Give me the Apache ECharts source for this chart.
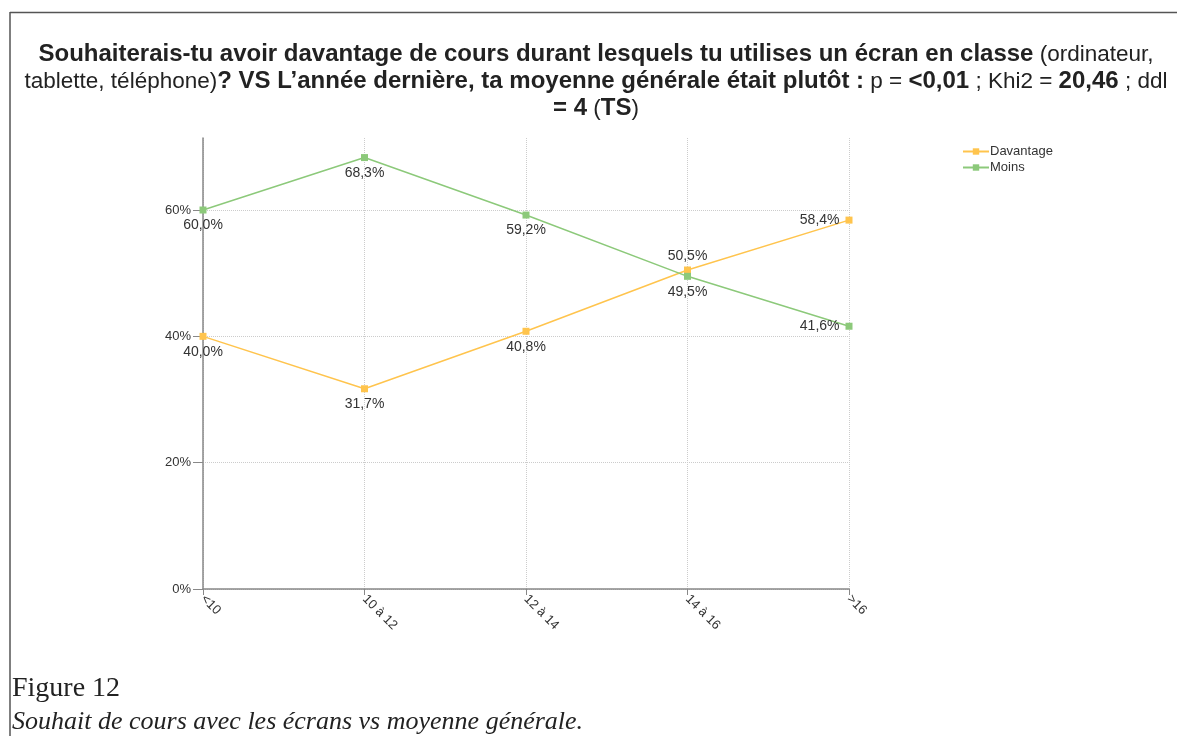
<!DOCTYPE html>
<html>
<head>
<meta charset="utf-8">
<script src="https://cdn.jsdelivr.net/npm/echarts@6/dist/echarts.min.js"></script>
<style>
  html, body { margin: 0; padding: 0; background: #fff; }
  #chart { width: 1177px; height: 736px; }
</style>
</head>
<body>
<div id="chart"></div>
<script>
// moyenne générale de l'année dernière
const categories = ['<10', '10 à 12', '12 à 14', '14 à 16', '>16'];
const davantage = [40.0, 31.7, 40.8, 50.5, 58.4];
const moins = [60.0, 68.3, 59.2, 49.5, 41.6];
const seriesNames = ['Davantage', 'Moins'];

function pct(v) {
  return v.toFixed(1).replace('.', ',') + '%';
}

function renderChart() {
  const dom = document.getElementById('chart');
  const chart = echarts.init(dom);
  const titleText =
    '{b|Souhaiterais-tu avoir davantage de cours durant lesquels tu utilises un écran en classe}{n| (ordinateur,}\n' +
    '{n|tablette, téléphone)}{b|? VS L’année dernière, ta moyenne générale était plutôt :}{n| p = }{b|<0,01}{n| ; Khi2 = }{b|20,46}{n| ; ddl}\n' +
    '{b|= 4}{n| (}{b|TS}{n|)}';

  const labelCommon = {
    show: true,
    fontSize: 14,
    color: '#333',
    formatter: function (p) { return pct(p.value); },
    position: 'bottom',
    distance: 5
  };

  const option = {
    animation: false,
    textStyle: { fontFamily: 'Liberation Sans, Arial, sans-serif' },
    title: {
      text: titleText,
      left: 591,
      top: 36,
      textAlign: 'center',
      textStyle: {
        fontWeight: 'normal',
        rich: {
          b: { fontSize: 24, fontWeight: 'bold', color: '#222', lineHeight: 27, fontFamily: 'Liberation Sans' },
          n: { fontSize: 22.5, fontWeight: 'normal', color: '#222', lineHeight: 27, fontFamily: 'Liberation Sans' }
        }
      }
    },
    legend: {
      data: seriesNames,
      orient: 'vertical',
      left: 957,
      top: 140,
      itemWidth: 26,
      itemHeight: 8,
      itemGap: 3,
      textStyle: { fontSize: 13, color: '#333', padding: [0, 0, 0, -4] }
    },
    grid: {
      left: 203,
      right: 1177 - 849,
      top: 138,
      bottom: 736 - 589
    },
    xAxis: {
      type: 'category',
      data: categories,
      boundaryGap: false,
      axisLine: { lineStyle: { color: '#888', width: 1.5 } },
      axisTick: { show: true, alignWithLabel: true, length: 6, lineStyle: { color: '#888' } },
      axisLabel: { rotate: -45, fontSize: 13, color: '#333', margin: 8 },
      splitLine: { show: true, lineStyle: { color: '#ccc', type: 'dotted' } }
    },
    yAxis: {
      type: 'value',
      min: 0,
      max: 71.4,
      interval: 20,
      axisLine: { show: true, lineStyle: { color: '#888', width: 1.5 } },
      axisTick: { show: true, length: 10, lineStyle: { color: '#888' } },
      axisLabel: {
        fontSize: 13, color: '#333', margin: 12, showMaxLabel: false,
        formatter: function (v) { return v > 71 ? '' : v + '%'; }
      },
      splitLine: { show: true, showMaxLine: false, lineStyle: { color: '#ccc', type: 'dotted' } }
    },
    series: [
      {
        name: 'Davantage',
        type: 'line',
        symbol: 'rect',
        symbolSize: 7,
        color: '#ffc44d',
        lineStyle: { width: 1.5, color: '#ffc44d' },
        label: labelCommon,
        data: davantage.map(function (v, i) {
          const item = { value: v };
          if (i === 3) item.label = { position: 'top', distance: 3 };
          if (i === 4) item.label = { position: 'left', distance: 6 };
          return item;
        })
      },
      {
        name: 'Moins',
        type: 'line',
        symbol: 'rect',
        symbolSize: 7,
        color: '#8cc97a',
        lineStyle: { width: 1.5, color: '#8cc97a' },
        label: labelCommon,
        data: moins.map(function (v, i) {
          const item = { value: v };
          if (i === 4) item.label = { position: 'left', distance: 6 };
          return item;
        })
      }
    ],
    graphic: [
      { type: 'line', shape: { x1: 10, y1: 12.5, x2: 1177, y2: 12.5 }, style: { stroke: '#555', lineWidth: 1.5 } },
      { type: 'line', shape: { x1: 10, y1: 12, x2: 10, y2: 736 }, style: { stroke: '#555', lineWidth: 1.5 } },
      { type: 'text', x: 12, y: 703, style: { text: 'Figure 12', font: '28px "Liberation Serif", "DejaVu Serif", serif', fill: '#222', verticalAlign: 'bottom' } },
      { type: 'text', x: 12, y: 735, style: { text: 'Souhait de cours avec les écrans vs moyenne générale.', font: 'italic 26px "Liberation Serif", "DejaVu Serif", serif', fill: '#222', verticalAlign: 'bottom' } }
    ]
  };
  chart.setOption(option, true);
}
renderChart();
</script>
</body>
</html>
